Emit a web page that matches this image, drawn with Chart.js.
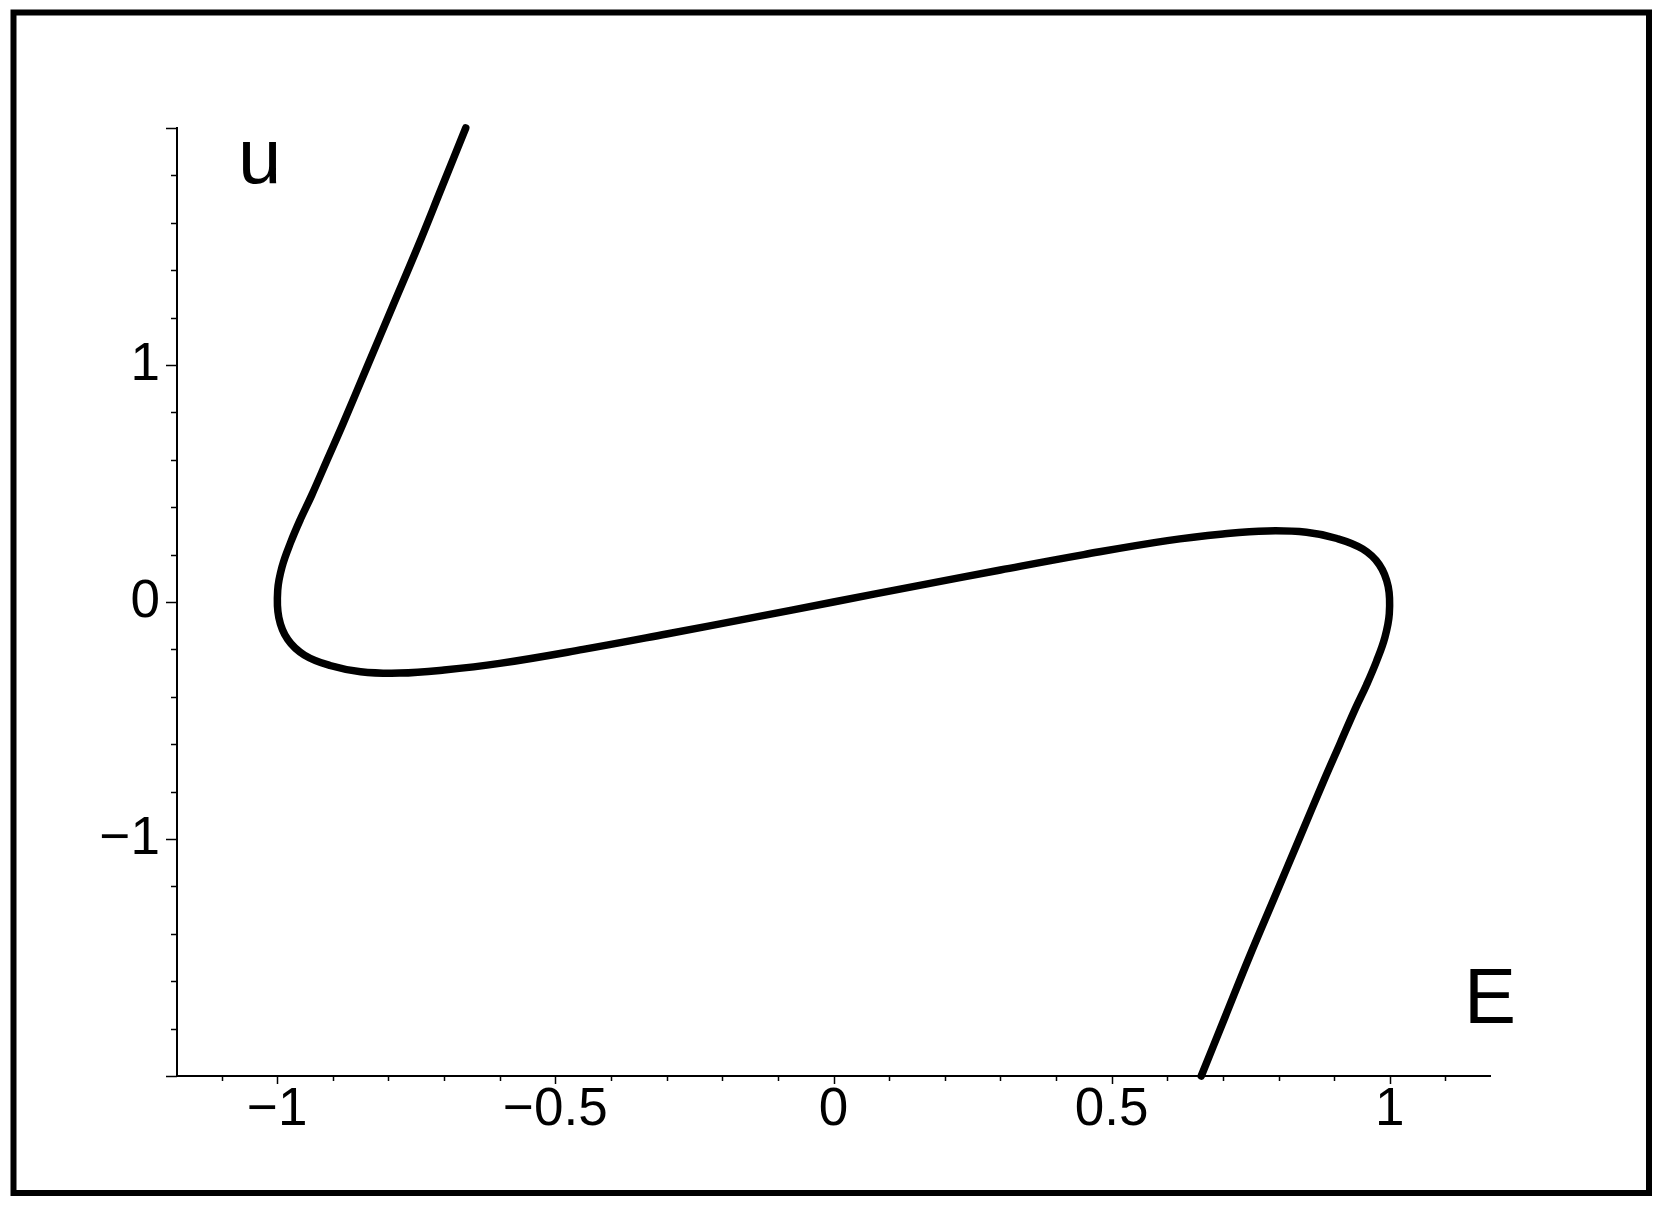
<!DOCTYPE html>
<html>
<head>
<meta charset="utf-8">
<script src="https://cdn.jsdelivr.net/npm/chart.js@4/dist/chart.umd.min.js"></script>
<style>
  html, body { margin: 0; padding: 0; background: #ffffff; }
  #c { display: block; }
</style>
</head>
<body>
<canvas id="c" width="1665" height="1209"></canvas>
<script>
// Curve, in drawing order (E on x, u on y)
const E = [-0.661, -0.704, -0.747, -0.792, -0.837, -0.882, -0.910, -0.938, -0.958, -0.976,
           -0.991, -0.999, -0.997, -0.981, -0.951, -0.905, -0.850, -0.780, -0.700, -0.600,
           -0.450, -0.300, -0.150, 0.000, 0.150, 0.300, 0.450, 0.600, 0.700, 0.780,
           0.850, 0.905, 0.951, 0.981, 0.997, 0.999, 0.991, 0.976, 0.958, 0.938,
           0.910, 0.882, 0.837, 0.792, 0.747, 0.704, 0.661];
const U = [2.000, 1.750, 1.500, 1.250, 1.000, 0.750, 0.600, 0.450, 0.350, 0.250,
           0.150, 0.050, -0.065, -0.158, -0.224, -0.268, -0.294, -0.300, -0.287, -0.259,
           -0.200, -0.135, -0.068, 0.000, 0.068, 0.135, 0.200, 0.259, 0.287, 0.300,
           0.294, 0.268, 0.224, 0.158, 0.065, -0.050, -0.150, -0.250, -0.350, -0.450,
           -0.600, -0.750, -1.000, -1.250, -1.500, -1.750, -2.000];
const xLabels = [-1, -0.5, 0, 0.5, 1];
const yLabels = [-1, 0, 1];
const xTitle = 'E';
const yTitle = 'u';

const points = E.map((e, i) => ({ x: e, y: U[i] }));
const fmt = v => (v < 0 ? '\u2212' : '') + String(Math.abs(v));
const near = (a, b) => Math.abs(a - b) < 1e-6;

const frameAndTicks = {
  id: 'frameAndTicks',
  afterDraw(chart) {
    const ctx = chart.ctx;
    const xs = chart.scales.x, ys = chart.scales.y;
    const area = chart.chartArea;
    ctx.save();
    ctx.strokeStyle = '#000';
    // tick marks
    ctx.lineWidth = 1.5;
    xs.ticks.forEach(t => {
      const px = Math.round(xs.getPixelForValue(t.value)) + 0.5;
      const major = near(t.value * 2, Math.round(t.value * 2));
      ctx.beginPath();
      ctx.moveTo(px, area.bottom);
      ctx.lineTo(px, area.bottom + (major ? 8 : 5));
      ctx.stroke();
    });
    ys.ticks.forEach(t => {
      const py = Math.round(ys.getPixelForValue(t.value)) + 0.5;
      const major = near(t.value, Math.round(t.value));
      ctx.beginPath();
      ctx.moveTo(area.left, py);
      ctx.lineTo(area.left - (major ? 11 : 6), py);
      ctx.stroke();
    });
    // axis names
    ctx.fillStyle = '#000';
    ctx.font = '78px "Liberation Sans", Arial, sans-serif';
    ctx.textBaseline = 'alphabetic';
    ctx.textAlign = 'left';
    ctx.fillText(yTitle, 238, 183);
    ctx.fillText(xTitle, 1464, 1023);
    // outer frame
    ctx.lineWidth = 6;
    ctx.strokeRect(13.5, 12.5, 1649 - 13.5, 1193 - 12.5);
    ctx.restore();
  }
};

new Chart(document.getElementById('c'), {
  type: 'scatter',
  data: {
    datasets: [{
      data: points,
      showLine: true,
      borderColor: '#000',
      borderWidth: 7.5,
      borderCapStyle: 'round',
      borderJoinStyle: 'round',
      pointRadius: 0,
      pointHoverRadius: 0,
      tension: 0.4,
      fill: false,
      clip: false
    }]
  },
  options: {
    responsive: false,
    animation: false,
    events: [],
    layout: { padding: { left: 0, top: 128, right: 175, bottom: 0 } },
    plugins: { legend: { display: false }, tooltip: { enabled: false }, title: { display: false } },
    scales: {
      x: {
        type: 'linear',
        position: 'bottom',
        min: -1.18,
        max: 1.18,
        afterFit(scale) { scale.height = 133; },
        border: { display: true, color: '#000', width: 2 },
        grid: { display: true, drawOnChartArea: false, drawTicks: false },
        ticks: {
          stepSize: 0.1,
          includeBounds: false,
          autoSkip: false,
          maxRotation: 0,
          minRotation: 0,
          padding: 3,
          color: '#000',
          font: { family: '"Liberation Sans", Arial, sans-serif', size: 53 },
          callback(v) {
            const hit = xLabels.find(l => near(l, v));
            return hit === undefined ? '' : fmt(hit);
          }
        }
      },
      y: {
        type: 'linear',
        position: 'left',
        min: -2,
        max: 2,
        afterFit(scale) { scale.width = 177; },
        border: { display: true, color: '#000', width: 2 },
        grid: { display: true, drawOnChartArea: false, drawTicks: false },
        ticks: {
          stepSize: 0.2,
          includeBounds: false,
          autoSkip: false,
          padding: 17,
          color: '#000',
          font: { family: '"Liberation Sans", Arial, sans-serif', size: 53 },
          callback(v) {
            const hit = yLabels.find(l => near(l, v));
            return hit === undefined ? '' : fmt(hit);
          }
        }
      }
    }
  },
  plugins: [frameAndTicks]
});
</script>
</body>
</html>
